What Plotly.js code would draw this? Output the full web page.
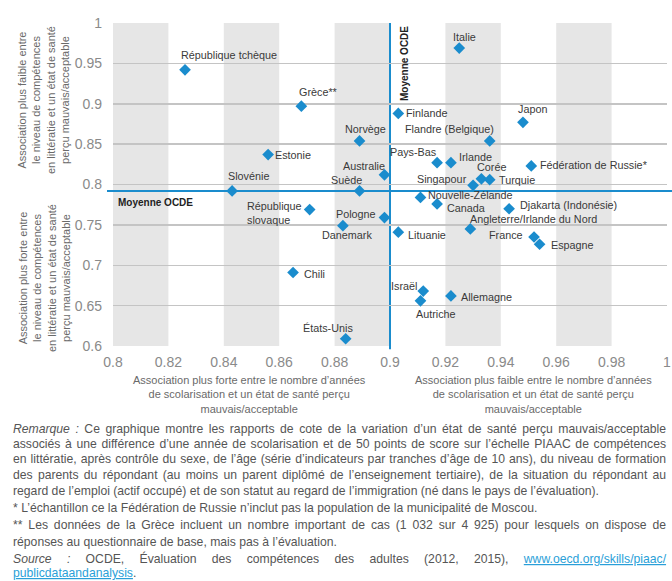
<!DOCTYPE html>
<html><head><meta charset="utf-8">
<script src="https://cdn.plot.ly/plotly-3.0.1.min.js"></script>
<style>html,body{margin:0;padding:0;background:#fff}#chart{width:672px;height:581px}</style>
</head><body><div id="chart"></div>
<script>
// ---- data ----
const countries = [
  "République tchèque","Grèce**","Estonie","Slovénie","Suède","Australie","Norvège","Finlande",
  "Italie","Japon","Flandre (Belgique)","Pays-Bas","Irlande","Fédération de Russie*","Corée","Turquie",
  "Singapour","Nouvelle-Zélande","Canada","Djakarta (Indonésie)","Pologne","Danemark",
  "Angleterre/Irlande du Nord","Lituanie","France","Espagne","République<br>slovaque","Chili",
  "États-Unis","Israël","Autriche","Allemagne"
];
const schoolingOR = [
  0.826,0.868,0.856,0.843,0.889,0.898,0.889,0.903,
  0.925,0.948,0.936,0.917,0.922,0.951,0.933,0.936,
  0.930,0.911,0.917,0.943,0.898,0.883,
  0.929,0.903,0.952,0.954,0.871,0.865,
  0.884,0.912,0.911,0.922
];
const literacyOR = [
  0.942,0.897,0.837,0.792,0.792,0.812,0.854,0.888,
  0.969,0.877,0.854,0.827,0.827,0.823,0.807,0.806,
  0.799,0.784,0.776,0.770,0.759,0.749,
  0.745,0.741,0.735,0.726,0.769,0.691,
  0.609,0.668,0.656,0.662
];
const oecdSchooling = 0.9;
const oecdLiteracy = 0.792;
const xTickVals = [0.8,0.82,0.84,0.86,0.88,0.9,0.92,0.94,0.96,0.98,1];
const xTickText = ["0.8","0.82","0.84","0.86","0.88","0.9","0.92","0.94","0.96","0.98","1"];
const yTickVals = [0.6,0.65,0.7,0.75,0.8,0.85,0.9,0.95,1];
const yTickText = ["0.6","0.65","0.7","0.75","0.8","0.85","0.9","0.95","1"];

// ---- label placement (style only): [xanchor, xshift, yshift] ----
const labelPlace = [
  ["left",-5,15],["left",-3,14],["left",6,0],["left",-5,15],["right",3,11],["right",2,9],["center",6,12],["left",7,0],
  ["center",5,11],["center",10,13],["right",5,12],["right",1,11],["left",7,6],["left",8,1],["center",10,12],["left",8,0],
  ["right",-5,6],["left",7,2],["left",9,-4],["left",10,4],["right",-7,4],["center",4,-9],
  ["left",-1,10],["left",9,-3],["right",-10,2],["left",10,-1],["right",-7,-3],["left",10,-1],
  ["right",8,11],["right",-5,5],["center",16,-13],["left",9,-1]
];

const W = 672, H = 581, ML = 113, MR = 5, MT = 23, MB = 235;
const PW = W - ML - MR, PH = H - MT - MB;
const pxX = px => (px - ML) / PW;
const pxY = py => (H - MB - py) / PH;

const FONT = "Liberation Sans, Arial, sans-serif";
const BLUE = "#1a8ccd";

const shapes = [];
for (let i = 0; i + 1 < xTickVals.length; i += 2) {
  shapes.push({type:"rect", xref:"x", yref:"paper", x0:xTickVals[i], x1:xTickVals[i+1], y0:0, y1:1,
    fillcolor:"#e6e6e6", line:{width:0}, layer:"below"});
}
shapes.push({type:"line", xref:"paper", yref:"y", x0:pxX(107), x1:pxX(672), y0:oecdLiteracy, y1:oecdLiteracy,
  line:{color:BLUE, width:2}, layer:"between"});
shapes.push({type:"line", xref:"x", yref:"paper", x0:oecdSchooling, x1:oecdSchooling, y0:-0.01, y1:1,
  line:{color:BLUE, width:2}, layer:"between"});

const annotations = [];
countries.forEach((c, i) => {
  const p = labelPlace[i];
  annotations.push({x:schoolingOR[i], y:literacyOR[i], xref:"x", yref:"y", text:c, showarrow:false,
    xanchor:p[0], yanchor:"middle", xshift:p[1], yshift:p[2], align:"left", borderpad:0,
    font:{family:FONT, size:10.8, color:"#3a3a3a"}});
});
// OECD average labels
annotations.push({xref:"paper", yref:"paper", x:pxX(116), y:pxY(202), xanchor:"left", yanchor:"middle",
  text:"<b>Moyenne OCDE</b>", showarrow:false, font:{family:FONT, size:10, color:"#222"}});
annotations.push({xref:"paper", yref:"paper", x:pxX(404), y:pxY(64), xanchor:"center", yanchor:"middle",
  text:"<b>Moyenne OCDE</b>", textangle:-90, showarrow:false, font:{family:FONT, size:10, color:"#222"}});
// y-axis titles
const yTitleFont = {family:FONT, size:11, color:"#6a6a6a"};
annotations.push({xref:"paper", yref:"paper", x:pxX(44), y:pxY(100), xanchor:"center", yanchor:"middle", textangle:-90,
  showarrow:false, font:yTitleFont,
  text:"Association plus faible entre<br>le niveau de compétences<br>en littératie et un état de santé<br>perçu mauvais/acceptable"});
annotations.push({xref:"paper", yref:"paper", x:pxX(44), y:pxY(278), xanchor:"center", yanchor:"middle", textangle:-90,
  showarrow:false, font:yTitleFont,
  text:"Association plus forte entre<br>le niveau de compétences<br>en littératie et un état de santé<br>perçu mauvais/acceptable"});
// x-axis titles
annotations.push({xref:"paper", yref:"paper", x:pxX(249), y:pxY(394), xanchor:"center", yanchor:"middle",
  showarrow:false, font:yTitleFont,
  text:"Association plus forte entre le nombre d’années<br>de scolarisation et un état de santé perçu<br>mauvais/acceptable"});
annotations.push({xref:"paper", yref:"paper", x:pxX(533), y:pxY(394), xanchor:"center", yanchor:"middle",
  showarrow:false, font:yTitleFont,
  text:"Association plus faible entre le nombre d’années<br>de scolarisation et un état de santé perçu<br>mauvais/acceptable"});

// notes (justified lines get word-spacing computed from measured width)
const NOTE_SIZE = 12.2;
const LINK = "#2a9fd8";
const noteLines = [
  ["<i>Remarque :</i> Ce graphique montre les rapports de cote de la variation d’un état de santé perçu mauvais/acceptable", true],
  ["associés à une différence d’une année de scolarisation et de 50 points de score sur l’échelle PIAAC de compétences", true],
  ["en littératie, après contrôle du sexe, de l’âge (série d’indicateurs par tranches d’âge de 10 ans), du niveau de formation", true],
  ["des parents du répondant (au moins un parent diplômé de l’enseignement tertiaire), de la situation du répondant au", true],
  ["regard de l’emploi (actif occupé) et de son statut au regard de l’immigration (né dans le pays de l’évaluation).", false],
  ["* L’échantillon ce la Fédération de Russie n’inclut pas la population de la municipalité de Moscou.", false],
  ["** Les données de la Grèce incluent un nombre important de cas (1 032 sur 4 925) pour lesquels on dispose de", true],
  ["réponses au questionnaire de base, mais pas à l’évaluation.", false],
  ["<i>Source :</i> OCDE, Évaluation des compétences des adultes (2012, 2015), <span style=\"color:" + LINK + "\"><u>www.oecd.org/skills/piaac/</u></span>", true],
  ["<span style=\"color:" + LINK + "\"><u>publicdataandanalysis</u></span>.", false]
];
const noteY = [429,444,459,475,491,508,525,542,558,573];
const canvas = document.createElement("canvas");
const ctx = canvas.getContext("2d");
ctx.font = NOTE_SIZE + "px 'Liberation Sans'";
const LEFT = 12, RIGHT = 667;
noteLines.forEach((ln, i) => {
  let t = ln[0];
  if (ln[1]) {
    const plain = t.replace(/<[^>]+>/g, "");
    const w = ctx.measureText(plain).width;
    const gaps = (plain.match(/ /g) || []).length;
    const ws = Math.max(0, (RIGHT - LEFT - w - 2) / gaps);
    t = "<span style=\"word-spacing:" + ws.toFixed(2) + "px\">" + t + "</span>";
  }
  annotations.push({xref:"paper", yref:"paper", x:pxX(LEFT), y:pxY(noteY[i]), xanchor:"left", yanchor:"middle",
    showarrow:false, text:t, align:"left", borderpad:0, font:{family:FONT, size:NOTE_SIZE, color:"#555"}});
});

const trace = {
  type:"scatter", mode:"markers", x:schoolingOR, y:literacyOR, text:countries,
  marker:{symbol:"diamond", size:9, color:BLUE}, hoverinfo:"skip", cliponaxis:false
};

const layout = {
  width:W, height:H, margin:{l:ML, r:MR, t:MT, b:MB, pad:0},
  paper_bgcolor:"#fff", plot_bgcolor:"rgba(0,0,0,0)", showlegend:false, hovermode:false,
  font:{family:FONT},
  xaxis:{range:[0.8,1], tickvals:xTickVals, ticktext:xTickText, showgrid:false, zeroline:false,
    showline:false, ticks:"", ticklabelstandoff:6, ticklabeloverflow:"allow",
    tickfont:{family:FONT, size:14, color:"#8a8a8a"}, fixedrange:true},
  yaxis:{range:[0.6,1], tickvals:yTickVals, ticktext:yTickText, showgrid:true, gridcolor:"#c4c4c4", gridwidth:1.5,
    zeroline:false, showline:false, ticks:"", ticklabelstandoff:10, tickfont:{family:FONT, size:14, color:"#8a8a8a"}, fixedrange:true},
  shapes:shapes, annotations:annotations
};

Plotly.newPlot("chart", [trace], layout, {displayModeBar:false, staticPlot:true});
</script>
</body></html>
